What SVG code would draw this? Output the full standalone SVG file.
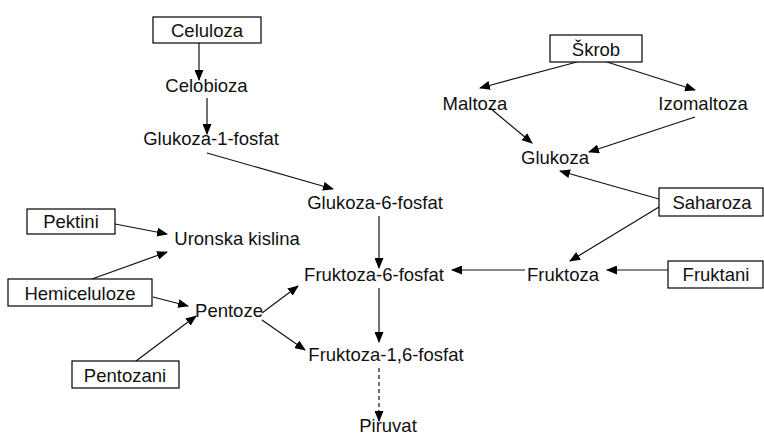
<svg xmlns="http://www.w3.org/2000/svg" width="764" height="436" viewBox="0 0 764 436">
<defs>
<style>
text{font-family:"Liberation Sans",Arial,sans-serif;font-size:18.5px;fill:#111;text-anchor:middle}
.box{fill:#fff;stroke:#000;stroke-width:1.2}
line{stroke:#111;stroke-width:1.2;marker-end:url(#ah)}
.d{stroke-dasharray:4 3}
</style>
<marker id="ah" markerUnits="userSpaceOnUse" markerWidth="11" markerHeight="9" refX="10" refY="4.5" orient="auto"><path d="M0,0 L11,4.5 L0,9 z" fill="#000"/></marker>
</defs>
<rect width="764" height="436" fill="#fff"/>
<g id="connectors">
<line x1="199" y1="43" x2="199" y2="80"/>
<line x1="207" y1="98" x2="207" y2="134"/>
<line x1="207" y1="153" x2="333" y2="189"/>
<line x1="379" y1="216" x2="379" y2="268"/>
<line x1="379" y1="288" x2="379" y2="342"/>
<line class="d" x1="379" y1="368" x2="379" y2="421"/>
<line x1="115" y1="224" x2="167" y2="234"/>
<line x1="92" y1="279" x2="167" y2="252"/>
<line x1="153" y1="297" x2="188" y2="306"/>
<line x1="136" y1="361" x2="196" y2="316"/>
<line x1="262" y1="313" x2="298" y2="286"/>
<line x1="262" y1="320" x2="305" y2="350"/>
<line x1="577" y1="62" x2="480" y2="88"/>
<line x1="607" y1="62" x2="695" y2="90"/>
<line x1="490" y1="108" x2="532" y2="143"/>
<line x1="695" y1="117" x2="589" y2="152"/>
<line x1="659" y1="199" x2="560" y2="171"/>
<line x1="659" y1="207" x2="570" y2="261"/>
<line x1="668" y1="270" x2="607" y2="270"/>
<line x1="525" y1="270" x2="452" y2="270"/>
</g>
<g id="celuloza"><rect class="box" x="153" y="17" width="108" height="26"/><text x="207" y="37">Celuloza</text></g>
<g id="celobioza"><text x="206.5" y="92">Celobioza</text></g>
<g id="glukoza1f"><text x="211" y="145">Glukoza-1-fosfat</text></g>
<g id="glukoza6f"><text x="375" y="209">Glukoza-6-fosfat</text></g>
<g id="fruktoza6f"><text x="374" y="281">Fruktoza-6-fosfat</text></g>
<g id="fruktoza16f"><text x="386" y="361">Fruktoza-1,6-fosfat</text></g>
<g id="piruvat"><text x="388" y="432">Piruvat</text></g>
<g id="pektini"><rect class="box" x="27" y="209" width="88" height="25"/><text x="71" y="228">Pektini</text></g>
<g id="uronska"><text x="237" y="245">Uronska kislina</text></g>
<g id="hemiceluloze"><rect class="box" x="8" y="279" width="144" height="27"/><text x="80" y="300">Hemiceluloze</text></g>
<g id="pentoze"><text x="229" y="317">Pentoze</text></g>
<g id="pentozani"><rect class="box" x="72" y="361" width="107" height="27"/><text x="125" y="382">Pentozani</text></g>
<g id="skrob"><rect class="box" x="550" y="35" width="92" height="27"/><text x="596" y="56">Škrob</text></g>
<g id="maltoza"><text x="475" y="110">Maltoza</text></g>
<g id="izomaltoza"><text x="703" y="110">Izomaltoza</text></g>
<g id="glukoza"><text x="555" y="164">Glukoza</text></g>
<g id="saharoza"><rect class="box" x="659" y="188" width="104" height="28"/><text x="712" y="209">Saharoza</text></g>
<g id="fruktoza"><text x="563" y="281">Fruktoza</text></g>
<g id="fruktani"><rect class="box" x="668" y="261" width="95" height="27"/><text x="716" y="281">Fruktani</text></g>
</svg>
